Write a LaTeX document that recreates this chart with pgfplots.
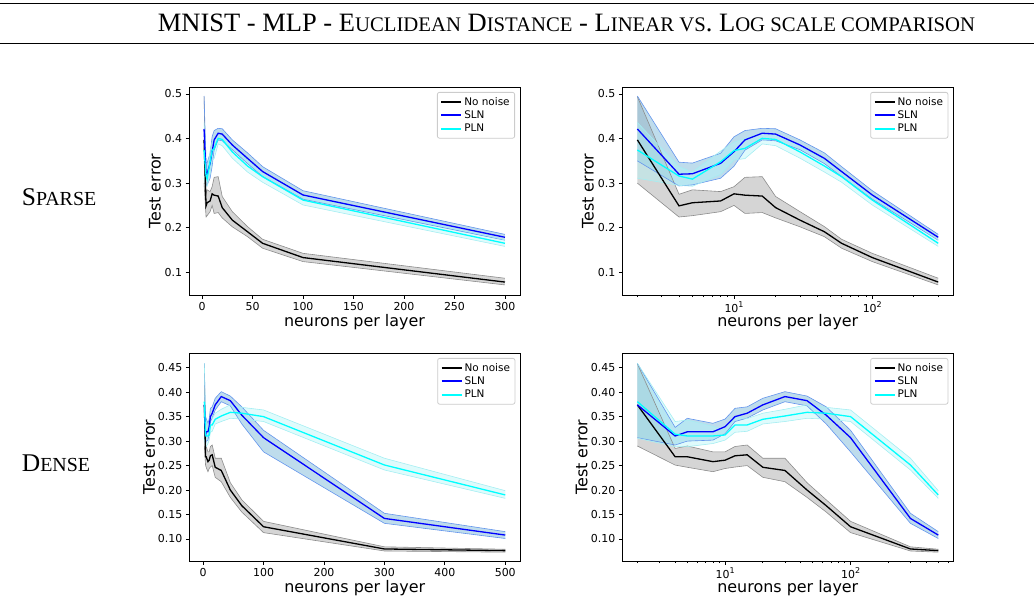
\documentclass[border=0pt]{standalone}
\usepackage{fontspec}
\setmainfont{Liberation Serif}
\newfontfamily\dejavu{DejaVu Sans}
\usepackage{pgfplots}
\pgfplotsset{compat=1.18}
\usepgfplotslibrary{fillbetween}
\usepackage{pgfplotstable}

\definecolor{sln}{RGB}{0,0,255}
\definecolor{pln}{RGB}{0,255,255}
\definecolor{slnfill}{RGB}{125,185,218}
\definecolor{slnedge}{RGB}{100,149,237}
\definecolor{plnfill}{RGB}{175,245,248}
\definecolor{plnedge}{RGB}{165,238,242}
\definecolor{nnfill}{RGB}{150,150,150}
\definecolor{nnedge}{RGB}{140,140,140}

\pgfplotstableread{
x   bm     bl     bh     sm     sl     sh     pm     pl     ph
2   0.397  0.300  0.494  0.4215 0.350  0.4955 0.3744 0.311  0.436
4   0.249  0.224  0.275  0.320  0.2936 0.347  0.316  0.295  0.337
5   0.256  0.227  0.285  0.321  0.296  0.345  0.309  0.293  0.325
8   0.260  0.236  0.281  0.3445 0.311  0.367  0.348  0.320  0.372
10  0.276  0.250  0.292  0.3706 0.338  0.404  0.373  0.352  0.392
12  0.273  0.232  0.313  0.397  0.374  0.418  0.378  0.355  0.400
16  0.271  0.234  0.3145 0.412  0.397  0.423  0.4005 0.388  0.413
20  0.245  0.222  0.270  0.410  0.395  0.422  0.398  0.384  0.410
30  0.217  0.202  0.236  0.3856 0.375  0.397  0.370  0.356  0.384
45  0.191  0.180  0.2025 0.3557 0.344  0.368  0.3385 0.325  0.352
60  0.165  0.154  0.174  0.326  0.315  0.337  0.3145 0.302  0.326
100 0.133  0.124  0.1425 0.2734 0.264  0.283  0.262  0.251  0.273
300 0.078  0.0716 0.0866 0.1785 0.172  0.185  0.165  0.158  0.173
}\sparsetab

\pgfplotstableread{
x   bm     bl     bh     sm     sl     sh     pm     pl     ph
2   0.374  0.290  0.458  0.374  0.307  0.459  0.3806 0.306  0.459
4   0.268  0.251  0.285  0.3105 0.292  0.328  0.314  0.2886 0.340
5   0.268  0.2465 0.290  0.319  0.300  0.3466 0.3105 0.2886 0.343
8   0.258  0.2375 0.278  0.319  0.302  0.3364 0.3105 0.295  0.330
10  0.261  0.244  0.278  0.3295 0.315  0.345  0.3125 0.302  0.323
12  0.270  0.247  0.289  0.350  0.340  0.367  0.333  0.318  0.350
15  0.272  0.250  0.292  0.357  0.347  0.370  0.333  0.320  0.346
20  0.2465 0.226  0.265  0.374  0.3636 0.3875 0.3446 0.335  0.357
30  0.240  0.217  0.265  0.391  0.3805 0.401  0.3513 0.340  0.365
45  0.200  0.185  0.215  0.3826 0.372  0.392  0.3588 0.3466 0.374
64  0.168  0.155  0.180  0.353  0.335  0.370  0.357  0.345  0.369
100 0.125  0.113  0.136  0.307  0.278  0.322  0.350  0.340  0.3636
300 0.0796 0.0755 0.084  0.142  0.132  0.1525 0.2512 0.241  0.265
500 0.0762 0.073  0.079  0.108  0.101  0.115  0.190  0.183  0.1987
}\densetab

\newcommand\smt[1]{{\fontsize{20.8}{20.8}\selectfont #1}}
\newcommand\smr[1]{{\fontsize{20.0}{20.0}\selectfont #1}}

\newcommand\drawall[2]{%
  \addplot[name path=#2bl, draw=nnedge, line width=0.6bp, forget plot] table[x=x,y=bl]{#1};
  \addplot[name path=#2bh, draw=nnedge, line width=0.6bp, forget plot] table[x=x,y=bh]{#1};
  \addplot[nnfill, fill opacity=0.4, draw=none, forget plot] fill between[of=#2bl and #2bh];
  \addplot[name path=#2sl, draw=slnedge, line width=0.6bp, forget plot] table[x=x,y=sl]{#1};
  \addplot[name path=#2sh, draw=slnedge, line width=0.6bp, forget plot] table[x=x,y=sh]{#1};
  \addplot[slnfill, fill opacity=0.5, draw=none, forget plot] fill between[of=#2sl and #2sh];
  \addplot[name path=#2pl, draw=plnedge, line width=0.6bp, forget plot] table[x=x,y=pl]{#1};
  \addplot[name path=#2ph, draw=plnedge, line width=0.6bp, forget plot] table[x=x,y=ph]{#1};
  \addplot[plnfill, fill opacity=0.4, draw=none, forget plot] fill between[of=#2pl and #2ph];
  \addplot[black, line width=1.3bp] table[x=x,y=bm]{#1};
  \addlegendentry{No noise}
  \addplot[sln, line width=1.3bp] table[x=x,y=sm]{#1};
  \addlegendentry{SLN}
  \addplot[pln, line width=1.3bp] table[x=x,y=pm]{#1};
  \addlegendentry{PLN}
}

\pgfplotsset{
  panel/.style={
    scale only axis, width=331bp, height=208bp,
    axis line style={line width=0.8bp},
    tick style={line width=0.8bp, black},
    tick align=outside, tick pos=left,
    major tick length=3.5bp, minor tick length=2bp,
    tick label style={font=\dejavu\fontsize{11}{11}\selectfont},
    /pgf/number format/assume math mode=true,
    label style={font=\dejavu\fontsize{16}{16}\selectfont},
    xlabel={neurons per layer}, ylabel={Test error},
    xlabel style={at={(axis description cs:0.5,-0.0913)}, anchor=north, inner sep=0pt},
    legend style={at={(0.985,0.976)}, anchor=north east, draw=black!20,
      line width=0.8bp, rounded corners=2bp,
      font=\dejavu\fontsize{10.5}{13}\selectfont,
      inner xsep=3bp, inner ysep=3bp, row sep=0bp,
      fill=white, fill opacity=0.8, text opacity=1, draw opacity=1},
    legend cell align=left,
    legend image code/.code={\draw[##1, line width=1.9bp] (0bp,0bp) -- (20bp,0bp);},
  },
  sparsey/.style={ymin=0.049, ymax=0.5157, ytick={0.1,0.2,0.3,0.4,0.5},
    yticklabel style={/pgf/number format/fixed, /pgf/number format/precision=1}},
  densey/.style={ymin=0.055, ymax=0.48, ytick={0.10,0.15,0.20,0.25,0.30,0.35,0.40,0.45},
    yticklabel style={/pgf/number format/fixed, /pgf/number format/fixed zerofill, /pgf/number format/precision=2}},
}

\begin{document}
\begin{tikzpicture}
\draw[line width=1.2bp] (0,-3.5bp) -- (1034bp,-3.5bp);
\draw[line width=1.2bp] (0,-43.5bp) -- (1034bp,-43.5bp);
\node[anchor=base, inner sep=0pt] at (566.5bp,-31.5bp) {\fontsize{26.6}{26.6}\selectfont MNIST - MLP - E\smt{UCLIDEAN} D\smt{ISTANCE} - L\smt{INEAR VS}. L\smt{OG SCALE COMPARISON}};
\node[anchor=base west, inner sep=0pt] at (21.7bp,-205bp) {\fontsize{25.6}{25.6}\selectfont S\smr{PARSE}};
\node[anchor=base west, inner sep=0pt] at (21.7bp,-471.7bp) {\fontsize{25.6}{25.6}\selectfont D\smr{ENSE}};

% Sparse linear
\begin{axis}[panel, sparsey, at={(189bp,-295bp)}, anchor=south west,
  xmin=-12.9, xmax=314.9, xtick={0,50,100,150,200,250,300},
  ylabel style={at={(axis description cs:-0.1027,0.5)}, anchor=center, inner sep=0pt}]
\drawall{\sparsetab}{sa}
\end{axis}

% Sparse log
\begin{axis}[panel, sparsey, at={(622.3bp,-295bp)}, anchor=south west,
  xmode=log, xmin=1.556, xmax=385.6, xtick={10,100},
  xticklabels={10\raisebox{0.45em}{\fontsize{8}{8}\selectfont 1}, 10\raisebox{0.45em}{\fontsize{8}{8}\selectfont 2}},
  minor xtick={2,3,4,5,6,7,8,9,20,30,40,50,60,70,80,90,200,300},
  ylabel style={at={(axis description cs:-0.1036,0.5)}, anchor=center, inner sep=0pt}]
\drawall{\sparsetab}{sb}
\end{axis}

% Dense linear
\begin{axis}[panel, densey, at={(189.3bp,-561bp)}, anchor=south west,
  xmin=-22.9, xmax=524.9, xtick={0,100,200,300,400,500},
  ylabel style={at={(axis description cs:-0.1216,0.5)}, anchor=center, inner sep=0pt}]
\drawall{\densetab}{da}
\end{axis}

% Dense log
\begin{axis}[panel, densey, at={(622.3bp,-561bp)}, anchor=south west,
  xmode=log, xmin=1.517, xmax=659, xtick={10,100},
  xticklabels={10\raisebox{0.45em}{\fontsize{8}{8}\selectfont 1}, 10\raisebox{0.45em}{\fontsize{8}{8}\selectfont 2}},
  minor xtick={2,3,4,5,6,7,8,9,20,30,40,50,60,70,80,90,200,300,400,500,600},
  ylabel style={at={(axis description cs:-0.1227,0.5)}, anchor=center, inner sep=0pt}]
\drawall{\densetab}{db}
\end{axis}
\pgfresetboundingbox
\path[use as bounding box] (0,0) rectangle (1034bp,-616bp);
\end{tikzpicture}
\end{document}
